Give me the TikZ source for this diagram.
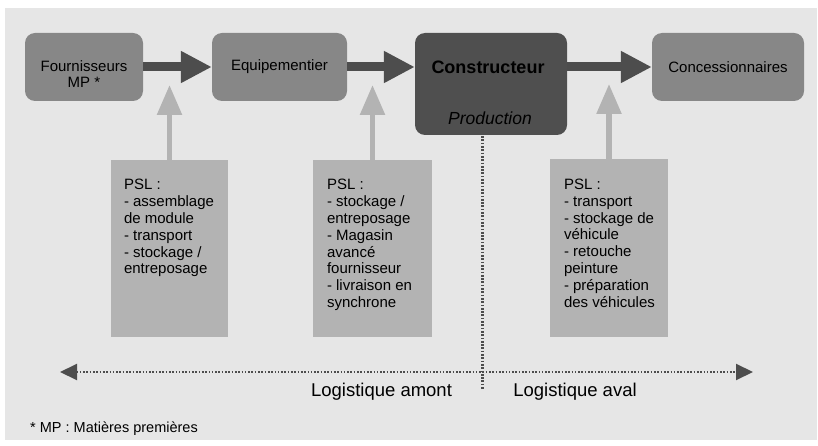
\documentclass[tikz,border=0pt]{standalone}
\usepackage{fontspec}
\setmainfont{Liberation Sans}
\usetikzlibrary{arrows.meta,calc}
\definecolor{bgc}{HTML}{E6E6E6}
\definecolor{boxc}{HTML}{878787}
\definecolor{darkc}{HTML}{4F4F4F}
\definecolor{arrc}{HTML}{4D4D4D}
\definecolor{pslc}{HTML}{B3B3B3}
\begin{document}
\begin{tikzpicture}[x=1pt,y=-1pt,
  box/.style={fill=boxc,rounded corners=10pt,inner sep=0pt,font=\fontsize{15}{16}\selectfont,align=center},
  darkbox/.style={fill=darkc,rounded corners=10pt,inner sep=0pt},
  pslbox/.style={fill=pslc,inner sep=0pt},
  psltext/.style={anchor=north west,inner sep=0pt,align=left,font=\fontsize{15}{16.8}\selectfont},
  flow/.style={draw=arrc,line width=9pt,-{Triangle[length=31pt,width=30pt]}},
  uparrow/.style={draw=pslc,line width=5.5pt,-{Triangle[length=30pt,width=24pt]}},
  span/.style={draw=arrc,line width=2pt,dash pattern=on 1.6pt off 1.7pt,{Triangle[length=17pt,width=16pt]}-{Triangle[length=17pt,width=16pt]}},
  divider/.style={draw=arrc,line width=2.3pt,dash pattern=on 1.7pt off 1.6pt},
  lbl/.style={anchor=base,inner sep=0pt,font=\fontsize{18.5}{20}\selectfont}]
\useasboundingbox (0,0) rectangle (818,446);
\fill[bgc] (5,8) rectangle (817,440);

% main chain
\node[box,minimum width=118pt,minimum height=68pt] (f) at (84,67) {};
\node[inner sep=0pt,align=center,font=\fontsize{15}{16}\selectfont] (ft) at ($(f.center)+(0,7.4)$) {Fournisseurs\\MP *};
\node[box,minimum width=135pt,minimum height=68pt] (e) at (279.5,67) {Equipementier};
\node[darkbox,minimum width=152pt,minimum height=102pt] (c) at (491,84) {};
\node[lbl,font=\fontsize{18}{20}\selectfont\bfseries] (ct) at (488,74) {Constructeur};
\node[lbl,font=\fontsize{17.5}{20}\selectfont\itshape] (cp) at (490,125) {Production};
\node[box,minimum width=152pt,minimum height=68pt] (k) at (728,67) {Concessionnaires};

\draw[flow] (f.east) -- (e.west);
\draw[flow] (e.east) -- (e.east -| c.west);
\draw[flow] (k.west -| c.east) -- (k.west);

% PSL boxes
\node[pslbox,minimum width=117pt,minimum height=177pt] (p1) at (169.5,248.5) {};
\node[pslbox,minimum width=119pt,minimum height=177pt] (p2) at (372.5,248.5) {};
\node[pslbox,minimum width=118pt,minimum height=178pt] (p3) at (609,248) {};

\node[psltext] (p1t) at ($(p1.north west)+(13,19.5)$) {PSL :\\- assemblage\\de module\\- transport\\- stockage /\\entreposage};
\node[psltext] (p2t) at ($(p2.north west)+(14,19.5)$) {PSL :\\- stockage /\\entreposage\\- Magasin\\avancé\\fournisseur\\- livraison en\\synchrone};
\node[psltext] (p3t) at ($(p3.north west)+(14,20)$) {PSL :\\- transport\\- stockage de\\véhicule\\- retouche\\peinture\\- préparation\\des véhicules};

\coordinate (t1) at (169.5,85);
\coordinate (t2) at (372.5,85);
\coordinate (t3) at (609,84);
\draw[uparrow] (p1.north) -- (t1);
\draw[uparrow] (p2.north) -- (t2);
\draw[uparrow] (p3.north) -- (t3);

% logistics span
\coordinate (la) at (60,372);
\coordinate (ra) at (753,372);
\coordinate (dtop) at ($(c.south)+(-8.5,1)$);
\coordinate (dbot) at (482.5,389);
\draw[divider] (dtop) -- (dbot);
\draw[span] (la) -- (ra);

\node[lbl] (am) at (381.5,396) {Logistique amont};
\node[lbl] (av) at (575,396) {Logistique aval};
\node[anchor=base west,inner sep=0pt,font=\fontsize{14.5}{16}\selectfont] (mp) at (30,432) {* MP : Matières premières};
\end{tikzpicture}
\end{document}
